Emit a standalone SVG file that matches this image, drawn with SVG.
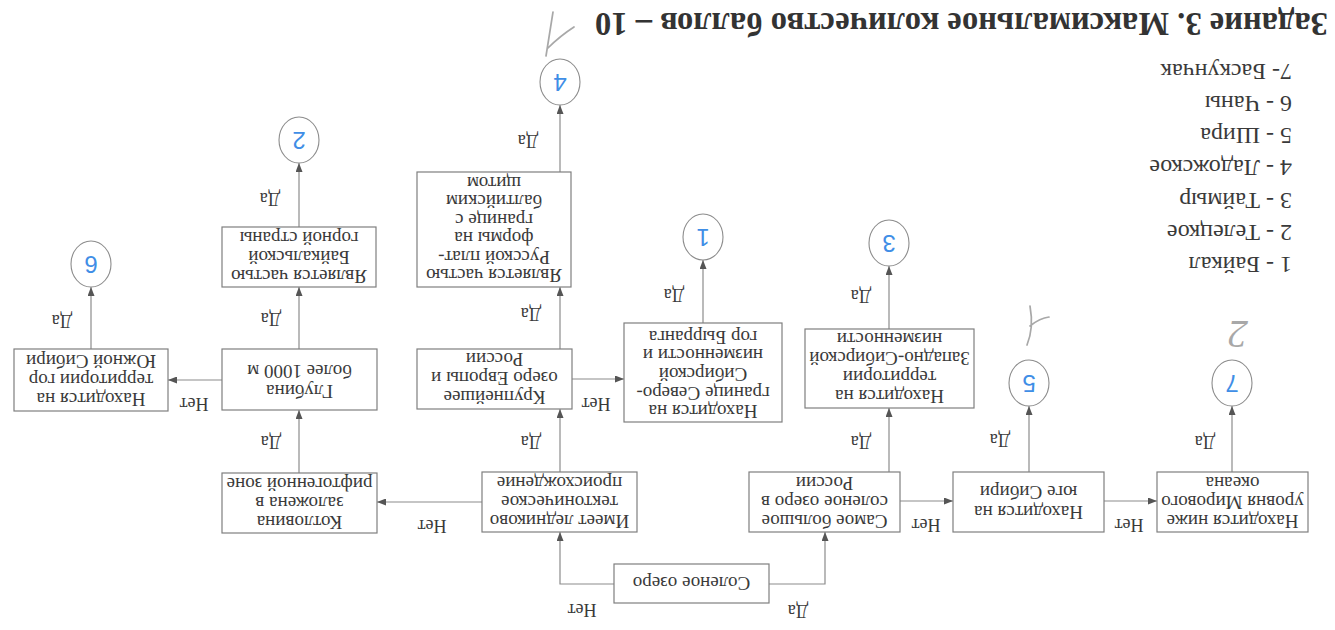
<svg xmlns="http://www.w3.org/2000/svg" width="1335" height="630" viewBox="0 0 1335 630">
<style>
.box{fill:#fff;stroke:#7f7f7f;stroke-width:1.2}
.t{font-family:"Liberation Serif","Times New Roman",serif;font-size:19px;fill:#3a3a3a;text-anchor:middle}
.lbl{font-family:"Liberation Serif","Times New Roman",serif;font-size:18px;fill:#3a3a3a;text-anchor:middle}
.leg{font-family:"Liberation Serif","Times New Roman",serif;font-size:24px;fill:#3a3a3a;text-anchor:start}
.title{font-family:"Liberation Serif","Times New Roman",serif;font-size:34px;font-weight:bold;fill:#333;text-anchor:middle}
.conn{fill:none;stroke:#8c8c8c;stroke-width:1.2}
.circ{fill:#fff;stroke:#8c8c8c;stroke-width:1.1}
.num{font-family:"Liberation Sans",Arial,sans-serif;font-size:24px;fill:#3f8ee6;text-anchor:middle}
.hand{fill:none;stroke:#a8a8a8;stroke-width:1.7;stroke-linecap:round}
.handt{font-family:"Liberation Serif",serif;font-style:italic;font-size:40px;fill:#a8a8a8;text-anchor:middle}
</style>
<defs>
<marker id="arr" markerWidth="9" markerHeight="7" refX="9" refY="3.5" orient="auto" markerUnits="userSpaceOnUse">
<path d="M0,0 L9,3.5 L0,7 z" fill="#555"/>
</marker>
</defs>
<rect width="1335" height="630" fill="#fff"/>

<g id="title">
<text class="title" x="961.5" y="41" textLength="733" lengthAdjust="spacingAndGlyphs" transform="rotate(180 961.5 27)">Задание 3. Максимальное количество баллов – 10</text>
</g>

<g id="legend">
<text class="leg" x="1292" y="273" transform="rotate(180 1292 265)">1 - Байкал</text>
<text class="leg" x="1292" y="241" transform="rotate(180 1292 233)">2 - Телецкое</text>
<text class="leg" x="1292" y="209" transform="rotate(180 1292 201)">3 - Таймыр</text>
<text class="leg" x="1292" y="176" transform="rotate(180 1292 168)">4 - Ладожское</text>
<text class="leg" x="1292" y="144" transform="rotate(180 1292 136)">5 - Шира</text>
<text class="leg" x="1292" y="112" transform="rotate(180 1292 104)">6 - Чаны</text>
<text class="leg" x="1292" y="80" transform="rotate(180 1292 72)">7- Баскунчак</text>
</g>

<g id="connectors">
<path class="conn" d="M222,380 H168" marker-end="url(#arr)"/>
<path class="conn" d="M482,502 H377" marker-end="url(#arr)"/>
<path class="conn" d="M572,379 H624" marker-end="url(#arr)"/>
<path class="conn" d="M900,501 H953" marker-end="url(#arr)"/>
<path class="conn" d="M1104,501 H1157" marker-end="url(#arr)"/>
<path class="conn" d="M614,584 H560 V532" marker-end="url(#arr)"/>
<path class="conn" d="M769,584 H825 V532" marker-end="url(#arr)"/>
<path class="conn" d="M299,473 V410" marker-end="url(#arr)"/>
<path class="conn" d="M299,349 V287" marker-end="url(#arr)"/>
<path class="conn" d="M299,227 V163" marker-end="url(#arr)"/>
<path class="conn" d="M91,349 V287" marker-end="url(#arr)"/>
<path class="conn" d="M560,472 V409" marker-end="url(#arr)"/>
<path class="conn" d="M560,349 V287" marker-end="url(#arr)"/>
<path class="conn" d="M560,172 V105" marker-end="url(#arr)"/>
<path class="conn" d="M703,323 V260" marker-end="url(#arr)"/>
<path class="conn" d="M889,472 V408" marker-end="url(#arr)"/>
<path class="conn" d="M889,329 V266" marker-end="url(#arr)"/>
<path class="conn" d="M1029,472 V406" marker-end="url(#arr)"/>
<path class="conn" d="M1232,472 V406" marker-end="url(#arr)"/>
<g id="labels">
<text class="lbl" x="194" y="410" transform="rotate(180 194 404)">Нет</text>
<text class="lbl" x="432" y="532" transform="rotate(180 432 526)">Нет</text>
<text class="lbl" x="596" y="410" transform="rotate(180 596 404)">Нет</text>
<text class="lbl" x="926" y="531" transform="rotate(180 926 525)">Нет</text>
<text class="lbl" x="1129" y="531" transform="rotate(180 1129 525)">Нет</text>
<text class="lbl" x="582" y="616" transform="rotate(180 582 610)">Нет</text>
<text class="lbl" x="798" y="617" transform="rotate(180 798 611)">Да</text>
<text class="lbl" x="271" y="448" transform="rotate(180 271 442)">Да</text>
<text class="lbl" x="271" y="325" transform="rotate(180 271 319)">Да</text>
<text class="lbl" x="270" y="205" transform="rotate(180 270 199)">Да</text>
<text class="lbl" x="62" y="327" transform="rotate(180 62 321)">Да</text>
<text class="lbl" x="531" y="448" transform="rotate(180 531 442)">Да</text>
<text class="lbl" x="531" y="320" transform="rotate(180 531 314)">Да</text>
<text class="lbl" x="528" y="147" transform="rotate(180 528 141)">Да</text>
<text class="lbl" x="674" y="301" transform="rotate(180 674 295)">Да</text>
<text class="lbl" x="861" y="448" transform="rotate(180 861 442)">Да</text>
<text class="lbl" x="861" y="302" transform="rotate(180 861 296)">Да</text>
<text class="lbl" x="1000" y="446" transform="rotate(180 1000 440)">Да</text>
<text class="lbl" x="1205" y="448" transform="rotate(180 1205 442)">Да</text>
</g>
</g>

<g id="n-solenoe">
<rect class="box" x="614" y="564" width="155" height="39"/>
<text class="t" x="691.5" y="590" transform="rotate(180 691.5 583.5)">Соленое озеро</text>
</g>
<g id="n-imeet">
<rect class="box" x="482" y="472" width="155" height="60"/>
<text class="t" transform="rotate(180 559.5 502)"><tspan x="559.5" y="489.5">Имеет ледниково</tspan><tspan x="559.5" y="508.5">тектоническое</tspan><tspan x="559.5" y="527.5">происхождение</tspan></text>
</g>
<g id="n-samoe">
<rect class="box" x="749" y="472" width="151" height="60"/>
<text class="t" transform="rotate(180 824.5 502)"><tspan x="824.5" y="489.5">Самое большое</tspan><tspan x="824.5" y="508.5">соленое озеро в</tspan><tspan x="824.5" y="527.5">России</tspan></text>
</g>
<g id="n-kotlovina">
<rect class="box" x="222" y="473" width="155" height="60"/>
<text class="t" transform="rotate(180 299.5 503)"><tspan x="299.5" y="490.5">Котловина</tspan><tspan x="299.5" y="509.5">заложена в</tspan><tspan x="299.5" y="528.5">рифтогенной зоне</tspan></text>
</g>
<g id="n-glubina">
<rect class="box" x="222" y="349" width="155" height="61"/>
<text class="t" transform="rotate(180 299.5 382)"><tspan x="299.5" y="379">Глубина</tspan><tspan x="299.5" y="399">более 1000 м</tspan></text>
</g>
<g id="n-yuzh">
<rect class="box" x="14" y="349" width="154" height="62"/>
<text class="t" transform="rotate(180 91 380)"><tspan x="91" y="367.5">Находится на</tspan><tspan x="91" y="386.5">территории гор</tspan><tspan x="91" y="405.5">Южной Сибири</tspan></text>
</g>
<g id="n-baikal">
<rect class="box" x="222" y="227" width="154" height="60"/>
<text class="t" transform="rotate(180 299 257)"><tspan x="299" y="244.5">Является частью</tspan><tspan x="299" y="263.5">Байкальской</tspan><tspan x="299" y="282.5">горной страны</tspan></text>
</g>
<g id="n-krup">
<rect class="box" x="417" y="349" width="155" height="60"/>
<text class="t" transform="rotate(180 494.5 378)"><tspan x="494.5" y="365.5">Крупнейшее</tspan><tspan x="494.5" y="384.5">озеро Европы и</tspan><tspan x="494.5" y="403.5">России</tspan></text>
</g>
<g id="n-rus">
<rect class="box" x="417" y="172" width="154" height="115"/>
<text class="t" transform="rotate(180 494 229.5)"><tspan x="494" y="190">Является частью</tspan><tspan x="494" y="208.4">Русской плат-</tspan><tspan x="494" y="226.8">формы на</tspan><tspan x="494" y="245.2">границе с</tspan><tspan x="494" y="263.6">балтийским</tspan><tspan x="494" y="282">щитом</tspan></text>
</g>
<g id="n-sever">
<rect class="box" x="624" y="323" width="158" height="99"/>
<text class="t" transform="rotate(180 703 375)"><tspan x="703" y="344.6">Находится на</tspan><tspan x="703" y="363.3">границе Северо-</tspan><tspan x="703" y="382">Сибирской</tspan><tspan x="703" y="400.7">низменности и</tspan><tspan x="703" y="419.4">гор Бырранга</tspan></text>
</g>
<g id="n-zapad">
<rect class="box" x="805" y="329" width="169" height="79"/>
<text class="t" transform="rotate(180 889.5 368.5)"><tspan x="889.5" y="347">Находится на</tspan><tspan x="889.5" y="366">территории</tspan><tspan x="889.5" y="385">Западно-Сибирской</tspan><tspan x="889.5" y="404">низменности</tspan></text>
</g>
<g id="n-yug">
<rect class="box" x="953" y="472" width="151" height="60"/>
<text class="t" transform="rotate(180 1028.5 503)"><tspan x="1028.5" y="500">Находится на</tspan><tspan x="1028.5" y="520">юге Сибири</tspan></text>
</g>
<g id="n-nizhe">
<rect class="box" x="1157" y="472" width="151" height="60"/>
<text class="t" transform="rotate(180 1232.5 502)"><tspan x="1232.5" y="489.5">Находится ниже</tspan><tspan x="1232.5" y="508.5">уровня Мирового</tspan><tspan x="1232.5" y="527.5">океана</tspan></text>
</g>

<g id="c2"><ellipse class="circ" cx="299" cy="140" rx="20" ry="23"/><text class="num" x="299" y="148" transform="rotate(180 299 140)">2</text></g>
<g id="c6"><ellipse class="circ" cx="91" cy="264" rx="20" ry="23"/><text class="num" x="91" y="272" transform="rotate(180 91 264)">6</text></g>
<g id="c4"><ellipse class="circ" cx="560" cy="82" rx="20" ry="23"/><text class="num" x="560" y="90" transform="rotate(180 560 82)">4</text></g>
<g id="c1"><ellipse class="circ" cx="703" cy="237" rx="20" ry="23"/><text class="num" x="703" y="245" transform="rotate(180 703 237)">1</text></g>
<g id="c3"><ellipse class="circ" cx="889" cy="243" rx="20" ry="23"/><text class="num" x="889" y="251" transform="rotate(180 889 243)">3</text></g>
<g id="c5"><ellipse class="circ" cx="1029" cy="383" rx="20" ry="23"/><text class="num" x="1029" y="391" transform="rotate(180 1029 383)">5</text></g>
<g id="c7"><ellipse class="circ" cx="1232" cy="383" rx="20" ry="23"/><text class="num" x="1232" y="391" transform="rotate(180 1232 383)">7</text></g>

<g id="marks">
<path class="hand" d="M553,12 L546,56 M548,48 Q560,36 574,27"/>
<path class="hand" d="M1030,306 Q1034,328 1027,345 M1030,326 Q1040,318 1049,317"/>
<text class="handt" x="1238" y="349" transform="rotate(180 1238 335)">2</text>
</g>
</svg>
